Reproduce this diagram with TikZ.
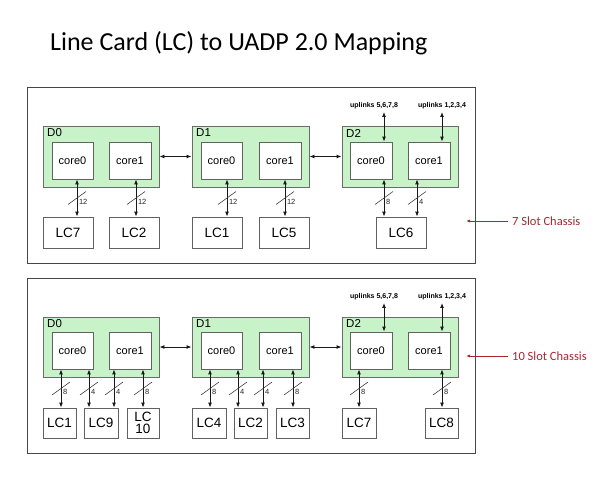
\documentclass[tikz,border=0pt]{standalone}
\usepackage{fontspec}
\setmainfont{Liberation Sans}
\newfontfamily\calibri{Carlito}
\usetikzlibrary{arrows.meta,calc}
\definecolor{dgreen}{RGB}{200,242,200}
\definecolor{chred}{RGB}{168,38,50}
\newcommand\lclink[4]{%
  \draw[link] (#3,0 |- #1.south) -- (#3,0 |- #2.north) coordinate[midway] (m);
  \draw[slash] ([shift={(-9,6.5)}]m) -- ([shift={(9,-6.5)}]m);
  \node[num] at ([shift={(1.8,3.5)}]m) {#4};}
\begin{document}
\begin{tikzpicture}[x=1pt,y=-1pt,
  chassis/.style={draw=black!72, line width=0.9pt, inner sep=0},
  dev/.style={draw=black!58, fill=dgreen, line width=0.9pt, inner sep=0, minimum height=61pt},
  core/.style={draw=black!62, fill=white, line width=0.8pt, inner sep=0, minimum height=37pt,
    font=\fontsize{11}{13}\selectfont},
  lc/.style={draw=black!62, fill=white, line width=0.8pt, inner sep=0, align=center,
    font=\fontsize{13.5}{12}\selectfont},
  dlabel/.style={anchor=west, inner sep=0, font=\fontsize{11.5}{13}\selectfont},
  link/.style={{Latex[length=5pt,width=4pt]}-{Latex[length=5pt,width=4pt]}, line width=0.9pt, black!90},
  slash/.style={line width=0.55pt, black!80},
  num/.style={anchor=west, inner sep=0, font=\fontsize{7.5}{8}\selectfont, black!85},
  uptext/.style={inner sep=0, font=\bfseries\fontsize{7}{8}\selectfont},
  chlabel/.style={anchor=west, inner sep=0, text=chred, font=\calibri\fontsize{12.5}{14}\selectfont},
  redarrow/.style={-{Latex[length=4pt,width=3pt]}, chred, line width=0.8pt}
]
\useasboundingbox[fill=white] (0,0) rectangle (607,476);

% title
\node[anchor=base west, inner sep=0, font=\calibri\fontsize{26}{30}\selectfont] (title) at (50,51)
  {Line Card (LC) to UADP 2.0 Mapping};

% ================= 7 slot chassis =================
\node[chassis, minimum width=448pt, minimum height=176pt] (chA) at (251,175) {};

\node[dev, minimum width=116pt] (aD0) at (101,156.5) {};
\node[dev, minimum width=117pt] (aD1) at (250.5,156.5) {};
\node[dev, minimum width=116pt] (aD2) at (400,156.5) {};
\node[dlabel] at (47,133) {D0};
\node[dlabel] at (196,133) {D1};
\node[dlabel] at (346,133) {D2};

\node[core, minimum width=41pt] (a00) at (72.5,160.5) {core0};
\node[core, minimum width=42pt] (a01) at (130,160.5) {core1};
\node[core, minimum width=41pt] (a10) at (221.5,160.5) {core0};
\node[core, minimum width=42pt] (a11) at (280,160.5) {core1};
\node[core, minimum width=42pt] (a20) at (371,160.5) {core0};
\node[core, minimum width=42pt] (a21) at (429,160.5) {core1};

\node[lc, minimum width=50pt, minimum height=31pt] (aLC7) at (68,232.5) {LC7};
\node[lc, minimum width=50pt, minimum height=31pt] (aLC2) at (134,232.5) {LC2};
\node[lc, minimum width=50pt, minimum height=31pt] (aLC1) at (217,232.5) {LC1};
\node[lc, minimum width=50pt, minimum height=31pt] (aLC5) at (284,232.5) {LC5};
\node[lc, minimum width=50pt, minimum height=31pt] (aLC6) at (401,232.5) {LC6};

\draw[link] (aD0.east) -- (aD1.west);
\draw[link] (aD1.east) -- (aD2.west);

\lclink{a00}{aLC7}{77}{12}
\lclink{a01}{aLC2}{136}{12}
\lclink{a10}{aLC1}{227}{12}
\lclink{a11}{aLC5}{285}{12}
\lclink{a20}{aLC6}{384}{8}
\lclink{a21}{aLC6}{417}{4}

\node[uptext] (aup0) at (374,106) {uplinks 5,6,7,8};
\node[uptext] (aup1) at (442,106) {uplinks 1,2,3,4};
\draw[link] (384,0 |- aup0.south) ++(0,2.5) coordinate (aup0e) -- (384,0 |- a20.north);
\draw[link] (442,0 |- aup1.south) ++(0,2.5) coordinate (aup1e) -- (442,0 |- a21.north);

\node[chlabel] (labA) at (512,221) {7 Slot Chassis};
\coordinate (tipA) at (466,221);
\draw[redarrow] ([xshift=-4pt]labA.west) -- (tipA);

% ================= 10 slot chassis =================
\node[chassis, minimum width=448pt, minimum height=175pt] (chB) at (251,365.5) {};

\node[dev, minimum width=116pt, minimum height=60pt] (bD0) at (101,347) {};
\node[dev, minimum width=117pt, minimum height=60pt] (bD1) at (250.5,347) {};
\node[dev, minimum width=116pt, minimum height=60pt] (bD2) at (400,347) {};
\node[dlabel] at (47,323.5) {D0};
\node[dlabel] at (196,323.5) {D1};
\node[dlabel] at (346,323.5) {D2};

\node[core, minimum width=41pt] (b00) at (72.5,350.5) {core0};
\node[core, minimum width=42pt] (b01) at (130,350.5) {core1};
\node[core, minimum width=41pt] (b10) at (221.5,350.5) {core0};
\node[core, minimum width=42pt] (b11) at (280,350.5) {core1};
\node[core, minimum width=42pt] (b20) at (371,350.5) {core0};
\node[core, minimum width=42pt] (b21) at (429,350.5) {core1};

\node[lc, minimum width=33pt, minimum height=30pt] (bLC1) at (59.5,423) {LC1};
\node[lc, minimum width=34pt, minimum height=30pt] (bLC9) at (101,423) {LC9};
\node[lc, minimum width=32pt, minimum height=30pt] (bLC10) at (143,423) {LC\\10};
\node[lc, minimum width=34pt, minimum height=30pt] (bLC4) at (209,423) {LC4};
\node[lc, minimum width=33pt, minimum height=30pt] (bLC2) at (250.5,423) {LC2};
\node[lc, minimum width=33pt, minimum height=30pt] (bLC3) at (292.5,423) {LC3};
\node[lc, minimum width=34pt, minimum height=30pt] (bLC7) at (359,423) {LC7};
\node[lc, minimum width=33pt, minimum height=30pt] (bLC8) at (441.5,423) {LC8};

\draw[link] (bD0.east) -- (bD1.west);
\draw[link] (bD1.east) -- (bD2.west);

\lclink{b00}{bLC1}{61}{8}
\lclink{b00}{bLC9}{89}{4}
\lclink{b01}{bLC9}{114}{4}
\lclink{b01}{bLC10}{143}{8}
\lclink{b10}{bLC4}{210}{8}
\lclink{b10}{bLC2}{238}{4}
\lclink{b11}{bLC2}{263}{4}
\lclink{b11}{bLC3}{293}{8}
\lclink{b20}{bLC7}{359}{8}
\lclink{b21}{bLC8}{442}{8}

\node[uptext] (bup0) at (374,297) {uplinks 5,6,7,8};
\node[uptext] (bup1) at (442,297) {uplinks 1,2,3,4};
\draw[link] (384,0 |- bup0.south) ++(0,2.5) coordinate (bup0e) -- (384,0 |- b20.north);
\draw[link] (442,0 |- bup1.south) ++(0,2.5) coordinate (bup1e) -- (442,0 |- b21.north);

\node[chlabel] (labB) at (512,356) {10 Slot Chassis};
\coordinate (tipB) at (466,356);
\draw[redarrow] ([xshift=-4pt]labB.west) -- (tipB);
\end{tikzpicture}
\end{document}
